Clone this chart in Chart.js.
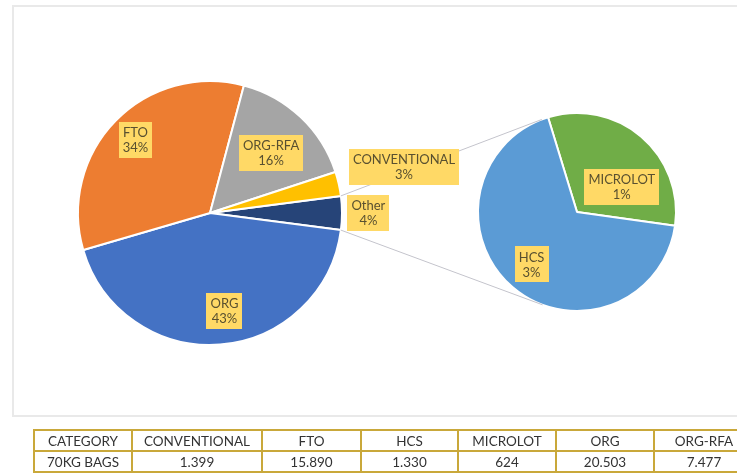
<!DOCTYPE html>
<html>
<head>
<meta charset="utf-8">
<script src="https://cdn.jsdelivr.net/npm/chart.js@4/dist/chart.umd.min.js"></script>
<style>
  html, body { margin:0; padding:0; background:#fff; width:737px; height:474px; overflow:hidden; position:relative; }
  #frame { position:absolute; left:12px; top:5px; width:800px; height:412px; border:2px solid #e9e9e9; box-sizing:border-box; }
  .cv { position:absolute; left:0; top:0; width:737px; height:420px; }
  table { position:absolute; left:33px; top:429px; width:720px; table-layout:fixed; border-collapse:collapse; font-family:Lato, "Liberation Sans", sans-serif; font-size:13.5px; color:#333; }
  td { border:2px solid #c9a83a; height:19px; padding:0 2px; text-align:center; white-space:nowrap; overflow:hidden; }
</style>
</head>
<body>
<div id="frame"></div>
<div class="cv"><canvas id="c2" width="737" height="420"></canvas></div>
<div class="cv"><canvas id="c1" width="737" height="420"></canvas></div>
<table id="tbl"><colgroup id="cg"></colgroup></table>
<script>
// ---- data ----
const categories = ['CONVENTIONAL', 'FTO', 'HCS', 'MICROLOT', 'ORG', 'ORG-RFA'];
const bags70kg   = [1399, 15890, 1330, 624, 20503, 7477];
const secondaryCategories = ['MICROLOT', 'HCS'];     // split into "Other"
const primaryOrder = ['Other', 'ORG', 'FTO', 'ORG-RFA', 'CONVENTIONAL'];
const tableHeader = 'CATEGORY';
const tableRowLabel = '70KG BAGS';

// ---- styles ----
const colors = {
  'Other': '#264478', 'ORG': '#4472c4', 'FTO': '#ed7d31', 'ORG-RFA': '#a5a5a5',
  'CONVENTIONAL': '#ffc000', 'MICROLOT': '#70ad47', 'HCS': '#5b9bd5'
};
// label placement: angle offset from slice middle (deg), distance as fraction of radius
const labelPlace = {
  'FTO': [0, 0.79], 'ORG-RFA': [2, 0.65], 'ORG': [-4, 0.75], 'CONVENTIONAL': [-0.5, 1.51],
  'Other': [0, 1.2], 'MICROLOT': [20, 0.52], 'HCS': [0.5, 0.7]
};

const valueOf = name => bags70kg[categories.indexOf(name)];
const total = bags70kg.reduce((a, b) => a + b, 0);
const otherValue = secondaryCategories.reduce((s, n) => s + valueOf(n), 0);
const primaryValues = primaryOrder.map(n => n === 'Other' ? otherValue : valueOf(n));
const secondaryValues = secondaryCategories.map(valueOf);
const pct = v => Math.round(v / total * 100) + '%';
const mainRotation = 90 - (otherValue / total * 360) / 2;

function drawLabels(chart, names, values) {
  const ctx = chart.ctx;
  const arcs = chart.getDatasetMeta(0).data;
  ctx.save();
  ctx.font = '13px Lato, "Liberation Sans", sans-serif';
  ctx.textAlign = 'center';
  ctx.textBaseline = 'middle';
  arcs.forEach((arc, i) => {
    const name = names[i];
    const [off, fr] = labelPlace[name];
    const mid = (arc.startAngle + arc.endAngle) / 2 + off * Math.PI / 180;
    const x = arc.x + Math.cos(mid) * arc.outerRadius * fr;
    const y = arc.y + Math.sin(mid) * arc.outerRadius * fr;
    const lines = [name, pct(values[i])];
    const w = Math.max(...lines.map(l => ctx.measureText(l).width)) + 8;
    const lh = 15, h = lines.length * lh + 6;
    ctx.fillStyle = '#ffd966';
    ctx.fillRect(Math.round(x - w / 2), Math.round(y - h / 2), Math.round(w), h);
    ctx.fillStyle = '#595030';
    lines.forEach((l, k) => ctx.fillText(l, x, y - h / 2 + 3 + lh * k + lh / 2 + 0.5));
  });
  ctx.restore();
}

// ---- secondary pie (bottom canvas) ----
const chart2 = new Chart(document.getElementById('c2'), {
  type: 'pie',
  data: { labels: secondaryCategories, datasets: [{
    data: secondaryValues,
    backgroundColor: secondaryCategories.map(n => colors[n]),
    borderColor: '#ffffff', borderWidth: 2, hoverOffset: 0
  }]},
  options: {
    responsive: false, animation: false, rotation: -17, radius: 99,
    layout: { padding: { left: 417, right: 0, top: 4, bottom: 0 } },
    plugins: { legend: { display: false }, tooltip: { enabled: false } }
  },
  plugins: [{ id: 'lbl2', afterDatasetsDraw(c) { drawLabels(c, secondaryCategories, secondaryValues); } }]
});

// ---- main pie (top canvas) ----
const connectors = {
  id: 'connectors',
  afterDatasetsDraw(c) {
    const ctx = c.ctx;
    const other = c.getDatasetMeta(0).data[0];
    const s = chart2.getDatasetMeta(0).data[0];
    const cx = s.x, cy = s.y, R = s.outerRadius;
    const pts = [other.startAngle, other.endAngle].map(a => [other.x + Math.cos(a) * other.outerRadius, other.y + Math.sin(a) * other.outerRadius]);
    ctx.save();
    ctx.strokeStyle = '#c4c4cc';
    ctx.lineWidth = 1;
    pts.forEach(([px, py], k) => {
      const dx = px - cx, dy = py - cy, d = Math.hypot(dx, dy);
      const base = Math.atan2(dy, dx), beta = Math.acos(R / d);
      const a = k === 0 ? base + beta : base - beta;
      ctx.beginPath();
      ctx.moveTo(px, py);
      ctx.lineTo(cx + Math.cos(a) * R, cy + Math.sin(a) * R);
      ctx.stroke();
    });
    ctx.restore();
    drawLabels(c, primaryOrder, primaryValues);
  }
};
const chart1 = new Chart(document.getElementById('c1'), {
  type: 'pie',
  data: { labels: primaryOrder, datasets: [{
    data: primaryValues,
    backgroundColor: primaryOrder.map(n => colors[n]),
    borderColor: '#ffffff', borderWidth: 2, hoverOffset: 0
  }]},
  options: {
    responsive: false, animation: false, rotation: mainRotation, radius: 132,
    layout: { padding: { left: 0, right: 317, top: 6, bottom: 0 } },
    plugins: { legend: { display: false }, tooltip: { enabled: false } }
  },
  plugins: [connectors]
});

// ---- data table ----
const fmt = v => String(v).replace(/\B(?=(\d{3})+(?!\d))/g, '.');
const colW = [98, 130, 99, 97, 98, 98, 100];
const tbl = document.getElementById('tbl');
const cg = document.getElementById('cg');
colW.forEach(w => { const col = document.createElement('col'); col.style.width = w + 'px'; cg.appendChild(col); });
const r1 = tbl.insertRow(), r2 = tbl.insertRow();
[tableHeader, ...categories].forEach(t => { r1.insertCell().textContent = t; });
[tableRowLabel, ...bags70kg.map(fmt)].forEach(t => { r2.insertCell().textContent = t; });
</script>
</body>
</html>
